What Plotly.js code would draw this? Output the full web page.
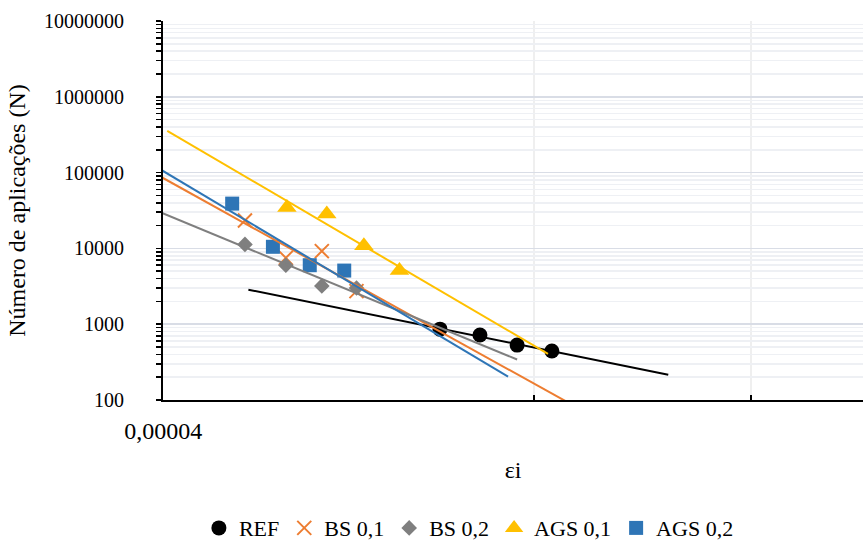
<!DOCTYPE html>
<html>
<head>
<meta charset="utf-8">
<script src="https://cdn.plot.ly/plotly-3.0.1.min.js"></script>
<style>html,body{margin:0;padding:0;background:#fff;}#chart{width:863px;height:542px;}</style>
</head>
<body>
<div id="chart"></div>
<script>
// ---- data ----
const seriesNames = ['REF', 'BS 0,1', 'BS 0,2', 'AGS 0,1', 'AGS 0,2'];

const epsREF   = [6.71e-5, 7.23e-5, 7.75e-5, 8.27e-5];
const nREF     = [860, 720, 530, 443];

const epsBS01  = [4.66e-5, 5.03e-5, 5.38e-5, 5.74e-5];
const nBS01    = [23300, 7500, 9200, 2730];

const epsBS02  = [4.66e-5, 5.03e-5, 5.38e-5, 5.74e-5];
const nBS02    = [11300, 6000, 3200, 3000];

const epsAGS01 = [5.04e-5, 5.43e-5, 5.82e-5, 6.22e-5];
const nAGS01   = [34600, 28400, 10800, 5100];

const epsAGS02 = [4.55e-5, 4.91e-5, 5.26e-5, 5.61e-5];
const nAGS02   = [39000, 10500, 6000, 5100];

// power-trendline extents (forecast backward / forward), same order as seriesNames
const trendFrom = [4.69e-5, 3.9e-5, 3.9e-5, 4.03e-5, 3.9e-5];
const trendTo   = [1.028e-4, 9.5e-5, 7.75e-5, 8.21e-5, 7.62e-5];

// axis ticks
const yTickVals = [100, 1000, 10000, 100000, 1000000, 10000000];
const yTickText = ['100', '1000', '10000', '100000', '1000000', '10000000'];
const xTickVals = [0.00004];
const xTickText = ['0,00004'];
const xMinorVals = [0.00008, 0.00012];

// ---- styling ----
const colors = ['#000000', '#ED7D31', '#7F7F7F', '#FFC000', '#2E75B6'];
const symbols = ['circle', 'x-thin-open', 'diamond', 'triangle-up', 'square'];
const sizes = [15, 14, 12, 17, 14];
const FONT = 'Liberation Serif, Times New Roman, serif';

const epsAll = [epsREF, epsBS01, epsBS02, epsAGS01, epsAGS02];
const nAll = [nREF, nBS01, nBS02, nAGS01, nAGS02];

function powerFit(xs, ys) {
  const lx = xs.map(v => Math.log10(v));
  const ly = ys.map(v => Math.log10(v));
  const n = lx.length;
  const mx = lx.reduce((a, b) => a + b, 0) / n;
  const my = ly.reduce((a, b) => a + b, 0) / n;
  let sxy = 0, sxx = 0;
  for (let i = 0; i < n; i++) { sxy += (lx[i] - mx) * (ly[i] - my); sxx += (lx[i] - mx) ** 2; }
  const b = sxy / sxx;
  const a = my - b * mx;
  return x => Math.pow(10, a + b * Math.log10(x));
}

const traces = [];
seriesNames.forEach((name, i) => {
  const m = {symbol: symbols[i], size: sizes[i], color: colors[i]};
  if (symbols[i] === 'x-thin-open') m.line = {color: colors[i], width: 2};
  traces.push({
    type: 'scatter', mode: 'markers', name: name,
    x: epsAll[i], y: nAll[i], marker: m, cliponaxis: true
  });
});
seriesNames.forEach((name, i) => {
  const f = powerFit(epsAll[i], nAll[i]);
  const xs = [trendFrom[i], trendTo[i]];
  traces.push({
    type: 'scatter', mode: 'lines', showlegend: false, hoverinfo: 'skip',
    x: xs, y: xs.map(f), line: {color: colors[i], width: 2}
  });
});

const yMinor = [];
for (let d = 100; d < 1e7; d *= 10) for (let k = 2; k <= 9; k++) yMinor.push(k * d);

const layout = {
  width: 863, height: 542,
  margin: {l: 163, r: 0, t: 21, b: 142, pad: 0, autoexpand: false},
  paper_bgcolor: '#ffffff', plot_bgcolor: '#ffffff',
  font: {family: FONT, color: '#000'},
  showlegend: true,
  xaxis: {
    type: 'log', automargin: false,
    range: [Math.log10(4e-5) - 0.0002, Math.log10(4e-5) + 700 / 1232.4],
    tickmode: 'array', tickvals: xTickVals, ticktext: xTickText,
    ticks: '', showgrid: false, zeroline: false,
    showline: true, linecolor: '#000', linewidth: 2,
    tickfont: {family: FONT, size: 24, color: '#000'},
    ticklabelstandoff: 8,
    minor: {tickvals: xMinorVals, ticks: 'inside', ticklen: 5, tickcolor: '#000', tickwidth: 1.5,
            showgrid: true, gridcolor: '#EFEFEF', gridwidth: 1.5},
    title: {text: 'εi', font: {family: FONT, size: 24, color: '#000'}, standoff: 18}
  },
  yaxis: {
    type: 'log', range: [2, 7], automargin: false,
    tickmode: 'array', tickvals: yTickVals, ticktext: yTickText,
    ticks: 'outside', ticklen: 5, tickcolor: '#000', tickwidth: 1.5,
    showgrid: true, gridcolor: '#D9DDE6', gridwidth: 1.5,
    showline: true, linecolor: '#000', linewidth: 2, zeroline: false,
    tickfont: {family: FONT, size: 20, color: '#000'},
    ticklabelstandoff: 28,
    minor: {tickvals: yMinor, ticks: 'outside', ticklen: 5, tickcolor: '#000', tickwidth: 1.5,
            showgrid: true, gridcolor: '#EEF0F4', gridwidth: 1.5},
    title: {text: 'Número de aplicações (N)', font: {family: FONT, size: 24, color: '#000'}, standoff: 12}
  },
  legend: {
    orientation: 'h', x: 0.437, xanchor: 'center', y: -0.338, yanchor: 'middle',
    font: {family: FONT, size: 22, color: '#000'},
    itemwidth: 30, bgcolor: 'rgba(0,0,0,0)', traceorder: 'normal'
  }
};

Plotly.newPlot('chart', traces, layout, {displayModeBar: false, staticPlot: true});
</script>
</body>
</html>
